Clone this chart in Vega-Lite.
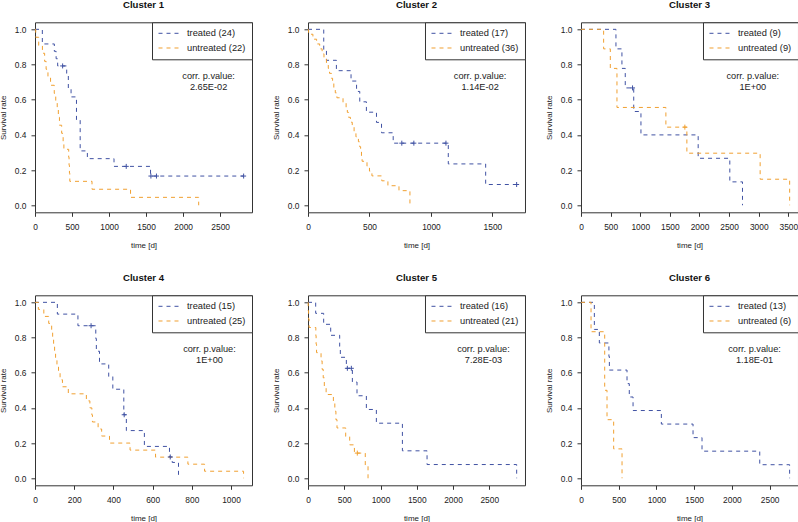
{
  "$schema": "https://vega.github.io/schema/vega-lite/v6.json",
  "padding": {"top": -1.7, "left": -2, "right": 0, "bottom": 0},
  "background": "white",
  "columns": 3,
  "spacing": {"row": 83, "column": 56},
  "bounds": "flush",
  "datasets": {
    "km": [
      {"c":1,"g":"treated (24)","t":0,"s":1},{"c":1,"g":"treated (24)","t":99,"s":0.917},{"c":1,"g":"treated (24)","t":261,"s":0.875},{"c":1,"g":"treated (24)","t":285,"s":0.833},{"c":1,"g":"treated (24)","t":306,"s":0.792},{"c":1,"g":"treated (24)","t":428,"s":0.75},{"c":1,"g":"treated (24)","t":450,"s":0.66},{"c":1,"g":"treated (24)","t":487,"s":0.616},{"c":1,"g":"treated (24)","t":560,"s":0.485},{"c":1,"g":"treated (24)","t":610,"s":0.309},{"c":1,"g":"treated (24)","t":707,"s":0.265},{"c":1,"g":"treated (24)","t":1067,"s":0.221},{"c":1,"g":"treated (24)","t":1560,"s":0.166},{"c":1,"g":"treated (24)","t":2817,"s":0.166},
      {"c":1,"g":"untreated (22)","t":0,"s":1},{"c":1,"g":"untreated (22)","t":10,"s":0.955},{"c":1,"g":"untreated (22)","t":50,"s":0.909},{"c":1,"g":"untreated (22)","t":100,"s":0.864},{"c":1,"g":"untreated (22)","t":130,"s":0.818},{"c":1,"g":"untreated (22)","t":150,"s":0.773},{"c":1,"g":"untreated (22)","t":175,"s":0.727},{"c":1,"g":"untreated (22)","t":210,"s":0.682},{"c":1,"g":"untreated (22)","t":260,"s":0.636},{"c":1,"g":"untreated (22)","t":280,"s":0.591},{"c":1,"g":"untreated (22)","t":300,"s":0.545},{"c":1,"g":"untreated (22)","t":315,"s":0.5},{"c":1,"g":"untreated (22)","t":330,"s":0.455},{"c":1,"g":"untreated (22)","t":360,"s":0.409},{"c":1,"g":"untreated (22)","t":380,"s":0.364},{"c":1,"g":"untreated (22)","t":390,"s":0.318},{"c":1,"g":"untreated (22)","t":455,"s":0.273},{"c":1,"g":"untreated (22)","t":460,"s":0.227},{"c":1,"g":"untreated (22)","t":465,"s":0.182},{"c":1,"g":"untreated (22)","t":470,"s":0.136},{"c":1,"g":"untreated (22)","t":770,"s":0.091},{"c":1,"g":"untreated (22)","t":1290,"s":0.045},{"c":1,"g":"untreated (22)","t":2210,"s":0},

      {"c":2,"g":"treated (17)","t":0,"s":1},{"c":2,"g":"treated (17)","t":128,"s":0.882},{"c":2,"g":"treated (17)","t":150,"s":0.824},{"c":2,"g":"treated (17)","t":231,"s":0.765},{"c":2,"g":"treated (17)","t":350,"s":0.706},{"c":2,"g":"treated (17)","t":395,"s":0.647},{"c":2,"g":"treated (17)","t":421,"s":0.588},{"c":2,"g":"treated (17)","t":475,"s":0.529},{"c":2,"g":"treated (17)","t":557,"s":0.471},{"c":2,"g":"treated (17)","t":598,"s":0.412},{"c":2,"g":"treated (17)","t":693,"s":0.353},{"c":2,"g":"treated (17)","t":1141,"s":0.235},{"c":2,"g":"treated (17)","t":1445,"s":0.118},{"c":2,"g":"treated (17)","t":1697,"s":0.118},
      {"c":2,"g":"untreated (36)","t":0,"s":1},{"c":2,"g":"untreated (36)","t":5,"s":0.972},{"c":2,"g":"untreated (36)","t":40,"s":0.944},{"c":2,"g":"untreated (36)","t":70,"s":0.917},{"c":2,"g":"untreated (36)","t":95,"s":0.889},{"c":2,"g":"untreated (36)","t":115,"s":0.861},{"c":2,"g":"untreated (36)","t":130,"s":0.833},{"c":2,"g":"untreated (36)","t":150,"s":0.806},{"c":2,"g":"untreated (36)","t":165,"s":0.778},{"c":2,"g":"untreated (36)","t":175,"s":0.75},{"c":2,"g":"untreated (36)","t":190,"s":0.722},{"c":2,"g":"untreated (36)","t":200,"s":0.694},{"c":2,"g":"untreated (36)","t":210,"s":0.667},{"c":2,"g":"untreated (36)","t":222,"s":0.639},{"c":2,"g":"untreated (36)","t":235,"s":0.611},{"c":2,"g":"untreated (36)","t":285,"s":0.583},{"c":2,"g":"untreated (36)","t":310,"s":0.556},{"c":2,"g":"untreated (36)","t":320,"s":0.528},{"c":2,"g":"untreated (36)","t":330,"s":0.5},{"c":2,"g":"untreated (36)","t":345,"s":0.472},{"c":2,"g":"untreated (36)","t":360,"s":0.444},{"c":2,"g":"untreated (36)","t":375,"s":0.417},{"c":2,"g":"untreated (36)","t":390,"s":0.389},{"c":2,"g":"untreated (36)","t":410,"s":0.361},{"c":2,"g":"untreated (36)","t":420,"s":0.333},{"c":2,"g":"untreated (36)","t":428,"s":0.306},{"c":2,"g":"untreated (36)","t":435,"s":0.278},{"c":2,"g":"untreated (36)","t":440,"s":0.25},{"c":2,"g":"untreated (36)","t":480,"s":0.222},{"c":2,"g":"untreated (36)","t":500,"s":0.194},{"c":2,"g":"untreated (36)","t":520,"s":0.167},{"c":2,"g":"untreated (36)","t":600,"s":0.139},{"c":2,"g":"untreated (36)","t":650,"s":0.111},{"c":2,"g":"untreated (36)","t":740,"s":0.083},{"c":2,"g":"untreated (36)","t":829,"s":0},

      {"c":3,"g":"treated (9)","t":0,"s":1},{"c":3,"g":"treated (9)","t":590,"s":0.889},{"c":3,"g":"treated (9)","t":691,"s":0.778},{"c":3,"g":"treated (9)","t":747,"s":0.667},{"c":3,"g":"treated (9)","t":890,"s":0.533},{"c":3,"g":"treated (9)","t":1012,"s":0.4},{"c":3,"g":"treated (9)","t":1978,"s":0.267},{"c":3,"g":"treated (9)","t":2512,"s":0.133},{"c":3,"g":"treated (9)","t":2726,"s":0},
      {"c":3,"g":"untreated (9)","t":0,"s":1},{"c":3,"g":"untreated (9)","t":382,"s":0.889},{"c":3,"g":"untreated (9)","t":495,"s":0.778},{"c":3,"g":"untreated (9)","t":607,"s":0.556},{"c":3,"g":"untreated (9)","t":1433,"s":0.444},{"c":3,"g":"untreated (9)","t":1787,"s":0.296},{"c":3,"g":"untreated (9)","t":3024,"s":0.148},{"c":3,"g":"untreated (9)","t":3522,"s":0},

      {"c":4,"g":"treated (15)","t":0,"s":1},{"c":4,"g":"treated (15)","t":114,"s":0.933},{"c":4,"g":"treated (15)","t":219,"s":0.867},{"c":4,"g":"treated (15)","t":310,"s":0.794},{"c":4,"g":"treated (15)","t":313,"s":0.722},{"c":4,"g":"treated (15)","t":329,"s":0.65},{"c":4,"g":"treated (15)","t":376,"s":0.578},{"c":4,"g":"treated (15)","t":397,"s":0.506},{"c":4,"g":"treated (15)","t":453,"s":0.361},{"c":4,"g":"treated (15)","t":466,"s":0.271},{"c":4,"g":"treated (15)","t":558,"s":0.181},{"c":4,"g":"treated (15)","t":686,"s":0.121},{"c":4,"g":"treated (15)","t":700,"s":0.09},{"c":4,"g":"treated (15)","t":732,"s":0},
      {"c":4,"g":"untreated (25)","t":0,"s":1},{"c":4,"g":"untreated (25)","t":17,"s":0.96},{"c":4,"g":"untreated (25)","t":45,"s":0.92},{"c":4,"g":"untreated (25)","t":70,"s":0.88},{"c":4,"g":"untreated (25)","t":85,"s":0.84},{"c":4,"g":"untreated (25)","t":90,"s":0.8},{"c":4,"g":"untreated (25)","t":95,"s":0.76},{"c":4,"g":"untreated (25)","t":100,"s":0.72},{"c":4,"g":"untreated (25)","t":105,"s":0.68},{"c":4,"g":"untreated (25)","t":112,"s":0.64},{"c":4,"g":"untreated (25)","t":120,"s":0.6},{"c":4,"g":"untreated (25)","t":128,"s":0.56},{"c":4,"g":"untreated (25)","t":140,"s":0.52},{"c":4,"g":"untreated (25)","t":170,"s":0.48},{"c":4,"g":"untreated (25)","t":262,"s":0.44},{"c":4,"g":"untreated (25)","t":280,"s":0.4},{"c":4,"g":"untreated (25)","t":290,"s":0.36},{"c":4,"g":"untreated (25)","t":293,"s":0.32},{"c":4,"g":"untreated (25)","t":322,"s":0.28},{"c":4,"g":"untreated (25)","t":340,"s":0.24},{"c":4,"g":"untreated (25)","t":380,"s":0.2},{"c":4,"g":"untreated (25)","t":485,"s":0.16},{"c":4,"g":"untreated (25)","t":615,"s":0.12},{"c":4,"g":"untreated (25)","t":780,"s":0.08},{"c":4,"g":"untreated (25)","t":865,"s":0.04},{"c":4,"g":"untreated (25)","t":1064,"s":0},

      {"c":5,"g":"treated (16)","t":0,"s":1},{"c":5,"g":"treated (16)","t":106,"s":0.9375},{"c":5,"g":"treated (16)","t":216,"s":0.875},{"c":5,"g":"treated (16)","t":313,"s":0.8125},{"c":5,"g":"treated (16)","t":437,"s":0.75},{"c":5,"g":"treated (16)","t":446,"s":0.6875},{"c":5,"g":"treated (16)","t":529,"s":0.625},{"c":5,"g":"treated (16)","t":612,"s":0.547},{"c":5,"g":"treated (16)","t":676,"s":0.469},{"c":5,"g":"treated (16)","t":805,"s":0.391},{"c":5,"g":"treated (16)","t":943,"s":0.313},{"c":5,"g":"treated (16)","t":1302,"s":0.156},{"c":5,"g":"treated (16)","t":1642,"s":0.078},{"c":5,"g":"treated (16)","t":2878,"s":0},
      {"c":5,"g":"untreated (21)","t":0,"s":1},{"c":5,"g":"untreated (21)","t":3,"s":0.952},{"c":5,"g":"untreated (21)","t":8,"s":0.905},{"c":5,"g":"untreated (21)","t":15,"s":0.857},{"c":5,"g":"untreated (21)","t":108,"s":0.81},{"c":5,"g":"untreated (21)","t":112,"s":0.762},{"c":5,"g":"untreated (21)","t":118,"s":0.714},{"c":5,"g":"untreated (21)","t":180,"s":0.667},{"c":5,"g":"untreated (21)","t":195,"s":0.619},{"c":5,"g":"untreated (21)","t":210,"s":0.571},{"c":5,"g":"untreated (21)","t":225,"s":0.524},{"c":5,"g":"untreated (21)","t":250,"s":0.476},{"c":5,"g":"untreated (21)","t":350,"s":0.429},{"c":5,"g":"untreated (21)","t":370,"s":0.381},{"c":5,"g":"untreated (21)","t":385,"s":0.333},{"c":5,"g":"untreated (21)","t":400,"s":0.286},{"c":5,"g":"untreated (21)","t":520,"s":0.238},{"c":5,"g":"untreated (21)","t":575,"s":0.19},{"c":5,"g":"untreated (21)","t":640,"s":0.143},{"c":5,"g":"untreated (21)","t":790,"s":0.071},{"c":5,"g":"untreated (21)","t":828,"s":0},

      {"c":6,"g":"treated (13)","t":0,"s":1},{"c":6,"g":"treated (13)","t":177,"s":0.846},{"c":6,"g":"treated (13)","t":243,"s":0.769},{"c":6,"g":"treated (13)","t":370,"s":0.692},{"c":6,"g":"treated (13)","t":376,"s":0.615},{"c":6,"g":"treated (13)","t":610,"s":0.538},{"c":6,"g":"treated (13)","t":640,"s":0.462},{"c":6,"g":"treated (13)","t":690,"s":0.385},{"c":6,"g":"treated (13)","t":1065,"s":0.308},{"c":6,"g":"treated (13)","t":1485,"s":0.231},{"c":6,"g":"treated (13)","t":1604,"s":0.154},{"c":6,"g":"treated (13)","t":2369,"s":0.077},{"c":6,"g":"treated (13)","t":2765,"s":0},
      {"c":6,"g":"untreated (6)","t":0,"s":1},{"c":6,"g":"untreated (6)","t":133,"s":0.833},{"c":6,"g":"untreated (6)","t":314,"s":0.5},{"c":6,"g":"untreated (6)","t":345,"s":0.333},{"c":6,"g":"untreated (6)","t":433,"s":0.167},{"c":6,"g":"untreated (6)","t":544,"s":0}
    ],
    "cens": [
      {"c":1,"g":"treated (24)","t":373,"s":0.792},{"c":1,"g":"treated (24)","t":1232,"s":0.221},{"c":1,"g":"treated (24)","t":1565,"s":0.166},{"c":1,"g":"treated (24)","t":1640,"s":0.166},{"c":1,"g":"treated (24)","t":2817,"s":0.166},
      {"c":2,"g":"treated (17)","t":763,"s":0.353},{"c":2,"g":"treated (17)","t":861,"s":0.353},{"c":2,"g":"treated (17)","t":1122,"s":0.353},{"c":2,"g":"treated (17)","t":1697,"s":0.118},
      {"c":3,"g":"treated (9)","t":870,"s":0.667},{"c":3,"g":"untreated (9)","t":1753,"s":0.444},
      {"c":4,"g":"treated (15)","t":286,"s":0.867},{"c":4,"g":"treated (15)","t":455,"s":0.361},{"c":4,"g":"treated (15)","t":690,"s":0.121},
      {"c":5,"g":"treated (16)","t":543,"s":0.625},{"c":5,"g":"treated (16)","t":598,"s":0.625},{"c":5,"g":"untreated (21)","t":680,"s":0.143}
    ],
    "pv": [
      {"c":1,"label":"corr. p.value:\n2.65E-02"},
      {"c":2,"label":"corr. p.value:\n1.14E-02"},
      {"c":3,"label":"corr. p.value:\n1E+00"},
      {"c":4,"label":"corr. p.value:\n1E+00"},
      {"c":5,"label":"corr. p.value:\n7.28E-03"},
      {"c":6,"label":"corr. p.value:\n1.18E-01"}
    ]
  },
  "concat": [
    {
      "width": 217, "height": 190, "title": "Cluster 1",
      "layer": [
        {"data": {"name": "km"}, "transform": [{"filter": "datum.c == 1"}],
         "mark": {"type": "line", "interpolate": "step-after", "strokeDash": [4, 4], "strokeWidth": 1},
         "encoding": {
           "x": {"field": "t", "type": "quantitative", "title": "time [d]", "scale": {"domain": [0, 2930], "nice": false, "zero": false}, "axis": {"values": [0, 500, 1000, 1500, 2000, 2500], "tickCount": 20, "format": "d", "labelOverlap": false}},
           "y": {"field": "s", "type": "quantitative", "title": "Survival rate", "scale": {"domain": [-0.04, 1.04], "nice": false, "zero": false}, "axis": {"values": [0, 0.2, 0.4, 0.6, 0.8, 1], "tickCount": 20, "format": ".1f", "labelOverlap": false}},
           "color": {"field": "g", "type": "nominal", "scale": {"domain": ["treated (24)", "untreated (22)"], "range": ["#3f51a3", "#f0a030"]}, "legend": {"title": null}}}},
        {"data": {"name": "cens"}, "transform": [{"filter": "datum.c == 1"}],
         "mark": {"type": "point", "shape": "M-1,0L1,0M0,-1L0,1", "filled": false, "size": 25, "strokeWidth": 1, "opacity": 1},
         "encoding": {"x": {"field": "t", "type": "quantitative"}, "y": {"field": "s", "type": "quantitative"}, "color": {"field": "g", "type": "nominal", "legend": null}}},
        {"data": {"name": "pv"}, "transform": [{"filter": "datum.c == 1"}],
         "mark": {"type": "text", "lineBreak": "\n", "fontSize": 9.2, "lineHeight": 11, "align": "center", "baseline": "middle", "color": "#222", "font": "Liberation Sans"},
         "encoding": {"x": {"datum": 2344}, "y": {"datum": 0.732}, "text": {"field": "label"}}}
      ]
    },
    {
      "width": 217, "height": 190, "title": "Cluster 2",
      "layer": [
        {"data": {"name": "km"}, "transform": [{"filter": "datum.c == 2"}],
         "mark": {"type": "line", "interpolate": "step-after", "strokeDash": [4, 4], "strokeWidth": 1},
         "encoding": {
           "x": {"field": "t", "type": "quantitative", "title": "time [d]", "scale": {"domain": [0, 1765], "nice": false, "zero": false}, "axis": {"values": [0, 500, 1000, 1500], "tickCount": 20, "format": "d", "labelOverlap": false}},
           "y": {"field": "s", "type": "quantitative", "title": "Survival rate", "scale": {"domain": [-0.04, 1.04], "nice": false, "zero": false}, "axis": {"values": [0, 0.2, 0.4, 0.6, 0.8, 1], "tickCount": 20, "format": ".1f", "labelOverlap": false}},
           "color": {"field": "g", "type": "nominal", "scale": {"domain": ["treated (17)", "untreated (36)"], "range": ["#3f51a3", "#f0a030"]}, "legend": {"title": null}}}},
        {"data": {"name": "cens"}, "transform": [{"filter": "datum.c == 2"}],
         "mark": {"type": "point", "shape": "M-1,0L1,0M0,-1L0,1", "filled": false, "size": 25, "strokeWidth": 1, "opacity": 1},
         "encoding": {"x": {"field": "t", "type": "quantitative"}, "y": {"field": "s", "type": "quantitative"}, "color": {"field": "g", "type": "nominal", "legend": null}}},
        {"data": {"name": "pv"}, "transform": [{"filter": "datum.c == 2"}],
         "mark": {"type": "text", "lineBreak": "\n", "fontSize": 9.2, "lineHeight": 11, "align": "center", "baseline": "middle", "color": "#222", "font": "Liberation Sans"},
         "encoding": {"x": {"datum": 1400}, "y": {"datum": 0.732}, "text": {"field": "label"}}}
      ]
    },
    {
      "width": 217, "height": 190, "title": "Cluster 3",
      "layer": [
        {"data": {"name": "km"}, "transform": [{"filter": "datum.c == 3"}],
         "mark": {"type": "line", "interpolate": "step-after", "strokeDash": [4, 4], "strokeWidth": 1},
         "encoding": {
           "x": {"field": "t", "type": "quantitative", "title": "time [d]", "scale": {"domain": [0, 3663], "nice": false, "zero": false}, "axis": {"values": [0, 500, 1000, 1500, 2000, 2500, 3000, 3500], "tickCount": 20, "format": "d", "labelOverlap": false}},
           "y": {"field": "s", "type": "quantitative", "title": "Survival rate", "scale": {"domain": [-0.04, 1.04], "nice": false, "zero": false}, "axis": {"values": [0, 0.2, 0.4, 0.6, 0.8, 1], "tickCount": 20, "format": ".1f", "labelOverlap": false}},
           "color": {"field": "g", "type": "nominal", "scale": {"domain": ["treated (9)", "untreated (9)"], "range": ["#3f51a3", "#f0a030"]}, "legend": {"title": null}}}},
        {"data": {"name": "cens"}, "transform": [{"filter": "datum.c == 3"}],
         "mark": {"type": "point", "shape": "M-1,0L1,0M0,-1L0,1", "filled": false, "size": 25, "strokeWidth": 1, "opacity": 1},
         "encoding": {"x": {"field": "t", "type": "quantitative"}, "y": {"field": "s", "type": "quantitative"}, "color": {"field": "g", "type": "nominal", "legend": null}}},
        {"data": {"name": "pv"}, "transform": [{"filter": "datum.c == 3"}],
         "mark": {"type": "text", "lineBreak": "\n", "fontSize": 9.2, "lineHeight": 11, "align": "center", "baseline": "middle", "color": "#222", "font": "Liberation Sans"},
         "encoding": {"x": {"datum": 2900}, "y": {"datum": 0.732}, "text": {"field": "label"}}}
      ]
    },
    {
      "width": 217, "height": 190, "title": "Cluster 4",
      "layer": [
        {"data": {"name": "km"}, "transform": [{"filter": "datum.c == 4"}],
         "mark": {"type": "line", "interpolate": "step-after", "strokeDash": [4, 4], "strokeWidth": 1},
         "encoding": {
           "x": {"field": "t", "type": "quantitative", "title": "time [d]", "scale": {"domain": [0, 1107], "nice": false, "zero": false}, "axis": {"values": [0, 200, 400, 600, 800, 1000], "tickCount": 20, "format": "d", "labelOverlap": false}},
           "y": {"field": "s", "type": "quantitative", "title": "Survival rate", "scale": {"domain": [-0.04, 1.04], "nice": false, "zero": false}, "axis": {"values": [0, 0.2, 0.4, 0.6, 0.8, 1], "tickCount": 20, "format": ".1f", "labelOverlap": false}},
           "color": {"field": "g", "type": "nominal", "scale": {"domain": ["treated (15)", "untreated (25)"], "range": ["#3f51a3", "#f0a030"]}, "legend": {"title": null}}}},
        {"data": {"name": "cens"}, "transform": [{"filter": "datum.c == 4"}],
         "mark": {"type": "point", "shape": "M-1,0L1,0M0,-1L0,1", "filled": false, "size": 25, "strokeWidth": 1, "opacity": 1},
         "encoding": {"x": {"field": "t", "type": "quantitative"}, "y": {"field": "s", "type": "quantitative"}, "color": {"field": "g", "type": "nominal", "legend": null}}},
        {"data": {"name": "pv"}, "transform": [{"filter": "datum.c == 4"}],
         "mark": {"type": "text", "lineBreak": "\n", "fontSize": 9.2, "lineHeight": 11, "align": "center", "baseline": "middle", "color": "#222", "font": "Liberation Sans"},
         "encoding": {"x": {"datum": 890}, "y": {"datum": 0.732}, "text": {"field": "label"}}}
      ]
    },
    {
      "width": 217, "height": 190, "title": "Cluster 5",
      "layer": [
        {"data": {"name": "km"}, "transform": [{"filter": "datum.c == 5"}],
         "mark": {"type": "line", "interpolate": "step-after", "strokeDash": [4, 4], "strokeWidth": 1},
         "encoding": {
           "x": {"field": "t", "type": "quantitative", "title": "time [d]", "scale": {"domain": [0, 2993], "nice": false, "zero": false}, "axis": {"values": [0, 500, 1000, 1500, 2000, 2500], "tickCount": 20, "format": "d", "labelOverlap": false}},
           "y": {"field": "s", "type": "quantitative", "title": "Survival rate", "scale": {"domain": [-0.04, 1.04], "nice": false, "zero": false}, "axis": {"values": [0, 0.2, 0.4, 0.6, 0.8, 1], "tickCount": 20, "format": ".1f", "labelOverlap": false}},
           "color": {"field": "g", "type": "nominal", "scale": {"domain": ["treated (16)", "untreated (21)"], "range": ["#3f51a3", "#f0a030"]}, "legend": {"title": null}}}},
        {"data": {"name": "cens"}, "transform": [{"filter": "datum.c == 5"}],
         "mark": {"type": "point", "shape": "M-1,0L1,0M0,-1L0,1", "filled": false, "size": 25, "strokeWidth": 1, "opacity": 1},
         "encoding": {"x": {"field": "t", "type": "quantitative"}, "y": {"field": "s", "type": "quantitative"}, "color": {"field": "g", "type": "nominal", "legend": null}}},
        {"data": {"name": "pv"}, "transform": [{"filter": "datum.c == 5"}],
         "mark": {"type": "text", "lineBreak": "\n", "fontSize": 9.2, "lineHeight": 11, "align": "center", "baseline": "middle", "color": "#222", "font": "Liberation Sans"},
         "encoding": {"x": {"datum": 2420}, "y": {"datum": 0.732}, "text": {"field": "label"}}}
      ]
    },
    {
      "width": 217, "height": 190, "title": "Cluster 6",
      "layer": [
        {"data": {"name": "km"}, "transform": [{"filter": "datum.c == 6"}],
         "mark": {"type": "line", "interpolate": "step-after", "strokeDash": [4, 4], "strokeWidth": 1},
         "encoding": {
           "x": {"field": "t", "type": "quantitative", "title": "time [d]", "scale": {"domain": [0, 2876], "nice": false, "zero": false}, "axis": {"values": [0, 500, 1000, 1500, 2000, 2500], "tickCount": 20, "format": "d", "labelOverlap": false}},
           "y": {"field": "s", "type": "quantitative", "title": "Survival rate", "scale": {"domain": [-0.04, 1.04], "nice": false, "zero": false}, "axis": {"values": [0, 0.2, 0.4, 0.6, 0.8, 1], "tickCount": 20, "format": ".1f", "labelOverlap": false}},
           "color": {"field": "g", "type": "nominal", "scale": {"domain": ["treated (13)", "untreated (6)"], "range": ["#3f51a3", "#f0a030"]}, "legend": {"title": null}}}},
        {"data": {"name": "cens"}, "transform": [{"filter": "datum.c == 6"}],
         "mark": {"type": "point", "shape": "M-1,0L1,0M0,-1L0,1", "filled": false, "size": 25, "strokeWidth": 1, "opacity": 1},
         "encoding": {"x": {"field": "t", "type": "quantitative"}, "y": {"field": "s", "type": "quantitative"}, "color": {"field": "g", "type": "nominal", "legend": null}}},
        {"data": {"name": "pv"}, "transform": [{"filter": "datum.c == 6"}],
         "mark": {"type": "text", "lineBreak": "\n", "fontSize": 9.2, "lineHeight": 11, "align": "center", "baseline": "middle", "color": "#222", "font": "Liberation Sans"},
         "encoding": {"x": {"datum": 2300}, "y": {"datum": 0.732}, "text": {"field": "label"}}}
      ]
    }
  ],
  "resolve": {"scale": {"x": "independent", "y": "independent", "color": "independent"}},
  "config": {
    "font": "Liberation Sans",
    "view": {"stroke": "#333", "strokeWidth": 1},
    "title": {"font": "Liberation Sans", "fontSize": 9.6, "fontWeight": "bold", "color": "#111", "baseline": "alphabetic", "offset": 12.5, "anchor": "middle", "frame": "group"},
    "axis": {"domain": false, "grid": false, "tickSize": 4, "tickColor": "#333", "labelFont": "Liberation Sans", "labelFontSize": 8.4, "labelColor": "#222", "labelFlush": false, "labelOverlap": false, "titleFont": "Liberation Sans", "titleFontSize": 8, "titleFontWeight": "normal", "titleColor": "#222"},
    "axisX": {"labelPadding": 6, "titlePadding": 11},
    "axisY": {"labelPadding": 5, "titlePadding": 7},
    "legend": {"orient": "top-right", "offset": 0, "padding": 6, "strokeColor": "#333", "fillColor": "white", "symbolType": "stroke", "symbolSize": 441, "symbolStrokeWidth": 1, "symbolDash": [4, 4], "labelFont": "Liberation Sans", "labelFontSize": 9.3, "labelColor": "#222", "labelOffset": 7, "rowPadding": 3.7, "clipHeight": 10, "symbolOffset": 0, "labelLimit": 200}
  }
}
